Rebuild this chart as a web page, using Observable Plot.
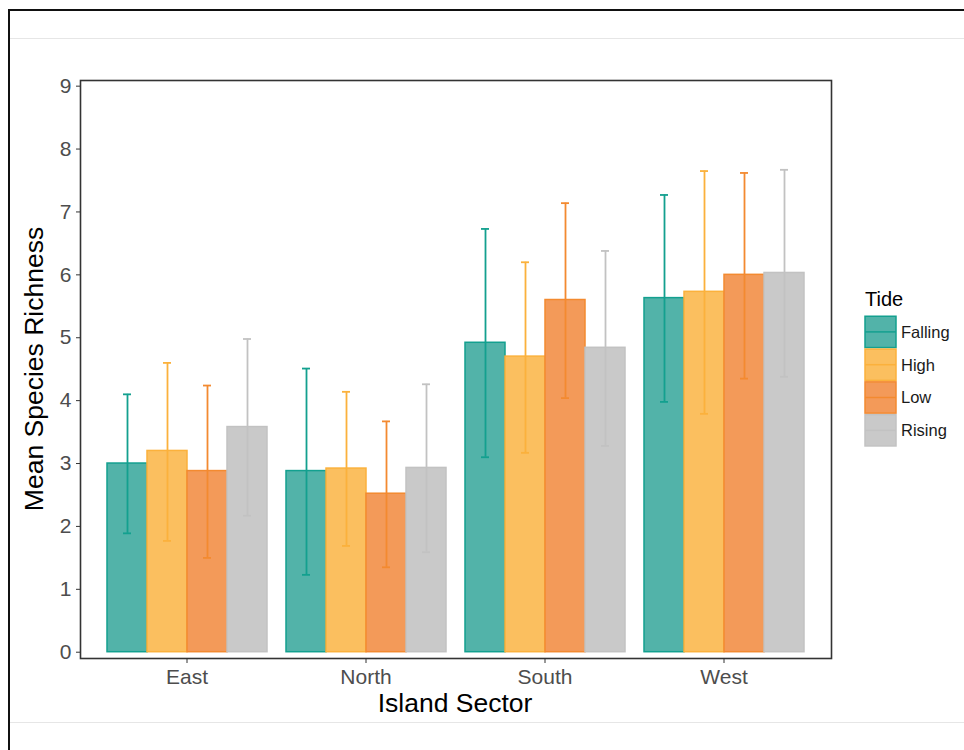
<!DOCTYPE html>
<html>
<head>
<meta charset="utf-8">
<script src="https://cdn.jsdelivr.net/npm/d3@7"></script>
<script src="https://cdn.jsdelivr.net/npm/@observablehq/plot@0.6"></script>
<style>
  html, body { margin: 0; padding: 0; background: #fff; }
  #page { position: relative; width: 964px; height: 750px; overflow: hidden; font-family: "Liberation Sans", Arial, Helvetica, sans-serif; }
  .line { position: absolute; }
  .layer { position: absolute; left: 0; top: 0; }
  #axes { z-index: 2; }
  #bars { z-index: 3; }
  #ytitle { position: absolute; z-index: 4; left: 34px; top: 369px; transform: translate(-50%, -50%) rotate(-90deg); font-size: 26.5px; color: #000; white-space: nowrap; }
  #xtitle { position: absolute; z-index: 4; left: 455px; top: 703px; transform: translate(-50%, -50%); font-size: 26.5px; color: #000; white-space: nowrap; }
  #legend { position: absolute; z-index: 4; left: 860px; top: 285px; }
</style>
</head>
<body>
<div id="page">
  <div class="line" style="left:8px;top:9px;width:956px;height:2px;background:#111;"></div>
  <div class="line" style="left:8px;top:9px;width:2px;height:741px;background:#111;"></div>
  <div class="line" style="left:10px;top:38px;width:954px;height:1px;background:#e6e6e6;"></div>
  <div class="line" style="left:10px;top:722px;width:954px;height:1px;background:#e6e6e6;"></div>
  <div id="axes" class="layer"></div>
  <div id="bars" class="layer"></div>
  <div id="ytitle">Mean Species Richness</div>
  <div id="xtitle">Island Sector</div>
  <div id="legend"></div>
</div>
<script>
// ---- data ----
const sectors = ["East", "North", "South", "West"];
const tides = ["Falling", "High", "Low", "Rising"];
const meanFalling = [3.00, 2.88, 4.92, 5.63];
const meanHigh    = [3.20, 2.92, 4.70, 5.73];
const meanLow     = [2.88, 2.52, 5.60, 6.00];
const meanRising  = [3.58, 2.93, 4.84, 6.03];
const loFalling = [1.89, 1.23, 3.10, 3.98];
const loHigh    = [1.77, 1.69, 3.17, 3.79];
const loLow     = [1.50, 1.35, 4.04, 4.35];
const loRising  = [2.17, 1.59, 3.28, 4.38];
const hiFalling = [4.10, 4.51, 6.73, 7.27];
const hiHigh    = [4.60, 4.14, 6.20, 7.65];
const hiLow     = [4.24, 3.67, 7.14, 7.62];
const hiRising  = [4.98, 4.26, 6.38, 7.67];
const yTicks = [0, 1, 2, 3, 4, 5, 6, 7, 8, 9];

const fillColors   = ["#52b3a9", "#fbbf5f", "#f39a59", "#c9c9c9"];
const strokeColors = ["#13a08f", "#fbb13c", "#f38a30", "#c2c2c2"];

const means = [meanFalling, meanHigh, meanLow, meanRising];
const los = [loFalling, loHigh, loLow, loRising];
const his = [hiFalling, hiHigh, hiLow, hiRising];

const rows = [];
tides.forEach((t, ti) => sectors.forEach((s, si) => {
  rows.push({tide: t, sector: s, mean: means[ti][si], lo: los[ti][si], hi: his[ti][si]});
}));

const W = 850, H = 730, mL = 80, mR = 19, mT = 80, mB = 72;
const FONT = "'Liberation Sans', Arial, Helvetica, sans-serif";
const yDomain = [-0.1, 9.09];
const bandOpts = {paddingInner: 0.1, paddingOuter: 0.14};

// ---- layer 1: panel frame + axes ----
const axes = Plot.plot({
  width: W, height: H,
  marginLeft: mL, marginRight: mR, marginTop: mT, marginBottom: mB,
  style: {background: "transparent", fontSize: "21px", fontFamily: FONT, color: "#4d4d4d"},
  x: {type: "band", domain: sectors, ...bandOpts},
  y: {domain: yDomain},
  marks: [
    Plot.frame({stroke: "#333", strokeWidth: 1.6}),
    Plot.axisY(yTicks, {tickSize: 4, tickPadding: 5, label: null, tickFormat: d => String(d), stroke: "#333", fill: "#4d4d4d"}),
    Plot.axisX(sectors, {tickSize: 5, tickPadding: 6, label: null, stroke: "#333", fill: "#4d4d4d"})
  ]
});
document.getElementById("axes").appendChild(axes);

// ---- layer 2: bars and error bars, grouped by sector ----
const marks = [];
tides.forEach((t, ti) => {
  const d = rows.filter(r => r.tide === t);
  marks.push(Plot.barY(d, {fx: "sector", x: "tide", y: "mean", fill: fillColors[ti], stroke: strokeColors[ti], strokeWidth: 1.5}));
});
tides.forEach((t, ti) => {
  const d = rows.filter(r => r.tide === t);
  marks.push(Plot.ruleX(d, {fx: "sector", x: "tide", y1: "lo", y2: "hi", stroke: strokeColors[ti], strokeWidth: 1.8}));
  marks.push(Plot.tickY(d, {fx: "sector", x: "tide", y: "lo", stroke: strokeColors[ti], strokeWidth: 1.8, insetLeft: 16, insetRight: 16}));
  marks.push(Plot.tickY(d, {fx: "sector", x: "tide", y: "hi", stroke: strokeColors[ti], strokeWidth: 1.8, insetLeft: 16, insetRight: 16}));
});

const bars = Plot.plot({
  width: W, height: H,
  marginLeft: mL, marginRight: mR, marginTop: mT, marginBottom: mB,
  style: {background: "transparent", fontSize: "20px", fontFamily: FONT},
  fx: {domain: sectors, ...bandOpts, axis: null, label: null},
  x: {domain: tides, padding: 0, axis: null},
  y: {domain: yDomain, axis: null},
  marks
});
document.getElementById("bars").appendChild(bars);

// ---- legend ----
const lg = d3.select("#legend").append("svg").attr("width", 104).attr("height", 170)
  .style("font-family", FONT);
lg.append("text").attr("x", 5).attr("y", 21).attr("font-size", 20).attr("fill", "#000").text("Tide");
const keyH = 32.8, keyW = 31, k0 = 30.5;
tides.forEach((t, i) => {
  const y = k0 + i * keyH;
  lg.append("rect").attr("x", 5).attr("y", y + 0.75).attr("width", keyW).attr("height", keyH - 1.5)
    .attr("fill", fillColors[i]).attr("stroke", strokeColors[i]).attr("stroke-width", 1.5);
  lg.append("line").attr("x1", 5).attr("x2", 5 + keyW).attr("y1", y + keyH / 2).attr("y2", y + keyH / 2)
    .attr("stroke", strokeColors[i]).attr("stroke-width", 1.5);
  lg.append("text").attr("x", 41).attr("y", y + keyH / 2).attr("dy", "0.36em")
    .attr("font-size", 16.5).attr("fill", "#1a1a1a").text(t);
});
</script>
</body>
</html>
